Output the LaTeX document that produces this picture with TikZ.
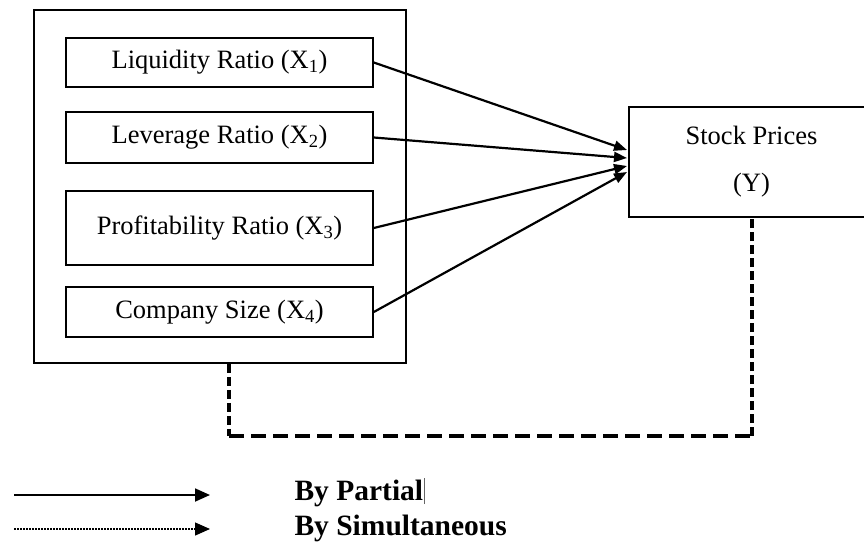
\documentclass[tikz,border=0pt]{standalone}
\usepackage{fontspec}
\setmainfont{Liberation Serif}
\usetikzlibrary{arrows.meta}
\begin{document}
\begin{tikzpicture}[x=1pt,y=-1pt,
  varbox/.style={draw, line width=1.6pt, minimum width=307pt, inner sep=0pt,
    font=\fontsize{26.5}{30}\selectfont},
  partial/.style={line width=2.2pt, -{Triangle[length=13pt,width=10pt]}},
  simul/.style={dash pattern=on 13pt off 6pt},
  legendtxt/.style={anchor=base west, font=\fontsize{29.5}{32}\selectfont\bfseries}]
\useasboundingbox (0,0) rectangle (864,544);

% independent variables inside a common frame
\node[draw, line width=1.6pt, minimum width=372pt, minimum height=353pt] (frame) at (220,186.5) {};
\node[varbox, minimum height=49pt] (x1) at (219.5,62.5) {Liquidity Ratio (X\textsubscript{1})};
\node[varbox, minimum height=51pt] (x2) at (219.5,137.5) {Leverage Ratio (X\textsubscript{2})};
\node[varbox, minimum height=74pt] (x3) at (219.5,228) {Profitability Ratio (X\textsubscript{3})};
\node[varbox, minimum height=50pt] (x4) at (219.5,312) {Company Size (X\textsubscript{4})};

% dependent variable
\node[draw, line width=1.6pt, minimum width=245pt, minimum height=110pt, align=center,
  font=\fontsize{26.5}{47}\selectfont] (y) at (751.5,162) {Stock Prices\\(Y)};

% partial effects
\coordinate (t1) at (627,150);
\coordinate (t2) at (627,158);
\coordinate (t3) at (627,166);
\coordinate (t4) at (627,172);
\draw[partial] (x1.east) -- (t1);
\draw[partial] (x2.east) -- (t2);
\draw[partial] (x3.east) -- (t3);
\draw[partial] (x4.east) -- (t4);

% simultaneous effect
\coordinate (d1) at (229,436);
\coordinate (d2) at (752,436);
\draw[line width=3.4pt, dash pattern=on 9pt off 4pt] (frame.south -| d1) -- (d1);
\draw[line width=4.4pt, dash pattern=on 15pt off 7pt] (d1) -- (d2);
\draw[line width=3.4pt, dash pattern=on 9pt off 4pt] (d2) -- (d2 |- y.south);

% legend
\coordinate (ls1) at (14,495);
\coordinate (le1) at (210,495);
\coordinate (ls2) at (14,529);
\coordinate (le2) at (210,529);
\draw[line width=1.8pt, -{Triangle[length=15pt,width=13pt]}] (ls1) -- (le1);
\draw[line width=1.2pt, dash pattern=on 2pt off 1pt, -{Triangle[length=15pt,width=13pt]}] (ls2) -- (le2);
\node[legendtxt] (lp) at (291,500) {By Partial\kern1pt{\color{black!60}\rule[-4pt]{0.9pt}{26pt}}};
\node[legendtxt] (lsim) at (291,535) {By Simultaneous};
\end{tikzpicture}
\end{document}
